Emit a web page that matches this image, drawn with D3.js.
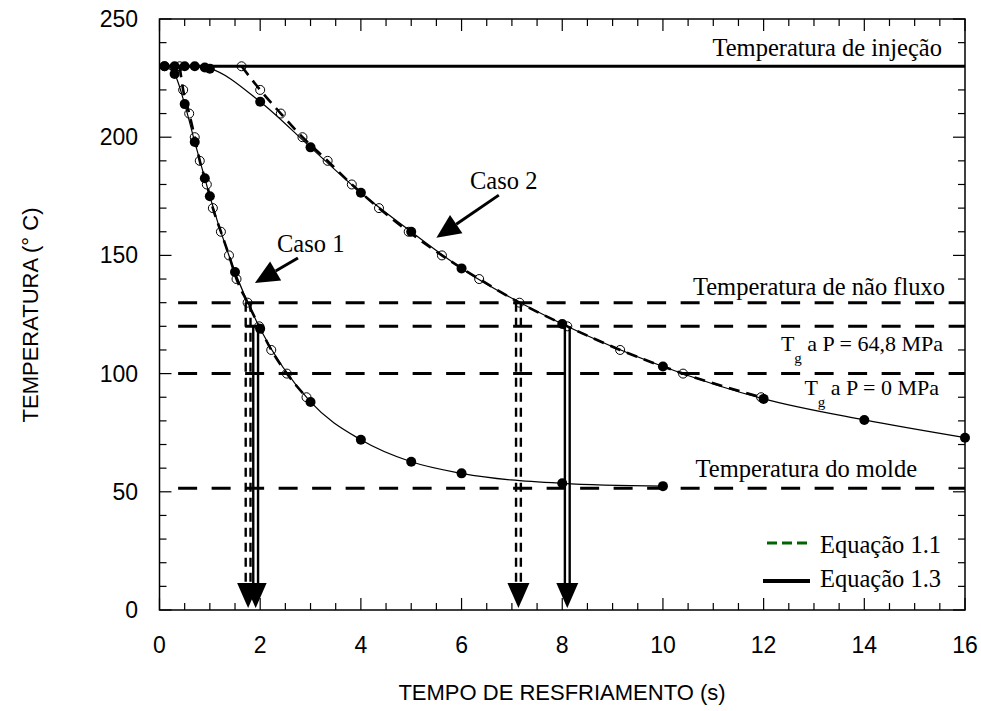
<!DOCTYPE html>
<html lang="pt">
<head>
<meta charset="utf-8">
<script src="https://d3js.org/d3.v7.min.js"></script>
<style>
  body { margin: 0; background: #fff; }
  svg { display: block; }
  .tick-label { font-family: "Liberation Sans", Arial, sans-serif; font-size: 23px; fill: #000; }
  .axis-title { font-family: "Liberation Sans", Arial, sans-serif; font-size: 22px; fill: #000; }
  .note { font-family: "Liberation Serif", "Times New Roman", serif; font-size: 24.5px; fill: #000; }
</style>
</head>
<body>
<script>
// ---- data ----
var xTicks = [0, 2, 4, 6, 8, 10, 12, 14, 16];
var yTicks = [0, 50, 100, 150, 200, 250];

// Caso 1, filled circles (thin solid curve)
var caso1Filled = [[0.1, 230], [0.3, 226.7], [0.5, 214], [0.7, 198], [0.9, 182.6], [1.0, 175],
  [1.5, 143], [2.0, 119], [3.0, 88], [4.0, 72], [5.0, 62.7], [6.0, 57.8], [8.0, 53.6], [10.0, 52.4]];
// Caso 1, open circles (thick dashed curve)
var caso1Open = [[0.4, 230], [0.47, 220], [0.59, 210], [0.7, 200], [0.8, 190], [0.94, 180], [1.06, 170],
  [1.22, 160], [1.38, 150], [1.53, 140], [1.75, 130], [1.98, 120], [2.22, 110], [2.53, 100], [2.92, 90]];
// Caso 2, filled circles
var caso2Filled = [[0.1, 230], [0.3, 230], [0.5, 230], [0.7, 230], [0.9, 229.5], [1.0, 229],
  [2.0, 215], [3.0, 195.7], [4.0, 176.5], [5.0, 160], [6.0, 144.5], [8.0, 121], [10.0, 103],
  [12.0, 89.3], [14.0, 80.4], [16.0, 72.9]];
// Caso 2, open circles
var caso2Open = [[1.63, 230], [2.0, 220], [2.41, 210], [2.84, 200], [3.34, 190], [3.82, 180], [4.36, 170],
  [4.95, 160], [5.61, 150], [6.35, 140], [7.15, 130], [8.1, 120], [9.15, 110], [10.4, 100], [11.95, 90]];

var injectionTemp = 230;
var refLines = [130, 120, 100, 51.5];   // não fluxo, Tg 64,8 MPa, Tg 0 MPa, molde
// vertical drop arrows: [x, from temperature, dashed?]
var dropArrows = [[1.76, 130, true], [1.91, 120, false], [7.13, 130, true], [8.1, 120, false]];
// "Caso" pointer arrows: [label, tailX, tailY, tipX, tipY]
var casoArrows = [["Caso 1", 2.75, 148.9, 1.895, 138.3], ["Caso 2", 6.74, 175.5, 5.5, 157.5]];

var W = 981, H = 711;
var x = d3.scaleLinear().domain([0, 16]).range([159.5, 965]);
var y = d3.scaleLinear().domain([0, 250]).range([610, 19]);

var svg = d3.select("body").append("svg").attr("width", W).attr("height", H);

// frame
svg.append("rect").attr("x", x(0)).attr("y", y(250))
  .attr("width", x(16) - x(0)).attr("height", y(0) - y(250))
  .attr("fill", "none").attr("stroke", "#000").attr("stroke-width", 1.5);

// inward ticks on all four sides
var g = svg.append("g").attr("stroke", "#000").attr("stroke-width", 1.2);
d3.range(0, 16.01, 0.5).forEach(function(v) {
  var len = (v % 2 === 0) ? 12 : 7;
  g.append("line").attr("x1", x(v)).attr("x2", x(v)).attr("y1", y(0)).attr("y2", y(0) - len);
  g.append("line").attr("x1", x(v)).attr("x2", x(v)).attr("y1", y(250)).attr("y2", y(250) + len);
});
d3.range(0, 250.1, 10).forEach(function(v) {
  var len = (v % 50 === 0) ? 12 : 7;
  g.append("line").attr("y1", y(v)).attr("y2", y(v)).attr("x1", x(0)).attr("x2", x(0) + len);
  g.append("line").attr("y1", y(v)).attr("y2", y(v)).attr("x1", x(16)).attr("x2", x(16) - len);
});

// tick labels
svg.selectAll(".xl").data(xTicks).enter().append("text")
  .attr("class", "tick-label").attr("text-anchor", "middle")
  .attr("x", function(d) { return x(d); }).attr("y", 653).text(function(d) { return d; });
svg.selectAll(".yl").data(yTicks).enter().append("text")
  .attr("class", "tick-label").attr("text-anchor", "end")
  .attr("x", 138).attr("y", function(d) { return y(d) + 8; }).text(function(d) { return d; });

// axis titles
svg.append("text").attr("class", "axis-title").attr("text-anchor", "middle")
  .attr("x", 562).attr("y", 700).text("TEMPO DE RESFRIAMENTO (s)");
svg.append("text").attr("class", "axis-title").attr("text-anchor", "middle")
  .attr("transform", "translate(38,315) rotate(-90)").text("TEMPERATURA (° C)");

// injection temperature line
svg.append("line").attr("x1", x(0)).attr("x2", x(16))
  .attr("y1", y(injectionTemp)).attr("y2", y(injectionTemp))
  .attr("stroke", "#000").attr("stroke-width", 3);

// horizontal dashed reference lines
svg.selectAll(".ref").data(refLines).enter().append("line")
  .attr("x1", x(0.37)).attr("x2", x(16))
  .attr("y1", function(d) { return y(d); }).attr("y2", function(d) { return y(d); })
  .attr("stroke", "#000").attr("stroke-width", 3).attr("stroke-dasharray", "19,14.5");

// vertical double-line drop arrows
dropArrows.forEach(function(a) {
  var cx = x(a[0]), top = y(a[1]), tip = y(0) - 2;
  [-2.4, 2.4].forEach(function(off) {
    svg.append("line").attr("x1", cx + off).attr("x2", cx + off)
      .attr("y1", top).attr("y2", tip - 18)
      .attr("stroke", "#000").attr("stroke-width", 2.4)
      .attr("stroke-dasharray", a[2] ? "9,6" : null);
  });
  svg.append("path")
    .attr("d", "M" + (cx - 11) + "," + (tip - 25) + "L" + (cx + 11) + "," + (tip - 25) + "L" + cx + "," + tip + "Z")
    .attr("fill", "#000");
});

// curves
var line = d3.line().x(function(d) { return x(d[0]); }).y(function(d) { return y(d[1]); })
  .curve(d3.curveMonotoneX);

[caso1Open, caso2Open].forEach(function(s) {
  svg.append("path").attr("d", line(s)).attr("fill", "none")
    .attr("stroke", "#000").attr("stroke-width", 2.6).attr("stroke-dasharray", "11,7");
});
[caso1Filled, caso2Filled].forEach(function(s) {
  svg.append("path").attr("d", line(s)).attr("fill", "none")
    .attr("stroke", "#000").attr("stroke-width", 1.2);
});

// markers
[caso1Open, caso2Open].forEach(function(s) {
  svg.append("g").selectAll("circle").data(s).enter().append("circle")
    .attr("cx", function(d) { return x(d[0]); }).attr("cy", function(d) { return y(d[1]); })
    .attr("r", 4.5).attr("fill", "none").attr("stroke", "#000").attr("stroke-width", 1);
});
[caso1Filled, caso2Filled].forEach(function(s) {
  svg.append("g").selectAll("circle").data(s).enter().append("circle")
    .attr("cx", function(d) { return x(d[0]); }).attr("cy", function(d) { return y(d[1]); })
    .attr("r", 5).attr("fill", "#000");
});

// "Caso" pointer arrows
casoArrows.forEach(function(a, i) {
  var x1 = x(a[1]), y1 = y(a[2]), x2 = x(a[3]), y2 = y(a[4]);
  var ang = Math.atan2(y2 - y1, x2 - x1), hl = 24, hw = 11;
  var bx = x2 - hl * Math.cos(ang), by = y2 - hl * Math.sin(ang);
  svg.append("line").attr("x1", x1).attr("y1", y1).attr("x2", bx).attr("y2", by)
    .attr("stroke", "#000").attr("stroke-width", 3);
  svg.append("path").attr("d", "M" + x2 + "," + y2 +
      "L" + (bx + hw * Math.sin(ang)) + "," + (by - hw * Math.cos(ang)) +
      "L" + (bx - hw * Math.sin(ang)) + "," + (by + hw * Math.cos(ang)) + "Z")
    .attr("fill", "#000");
  svg.append("text").attr("class", "note")
    .attr("x", i === 0 ? 277 : 470).attr("y", i === 0 ? 252 : 189).text(a[0]);
});

// annotations
function note(txt, xr, yb) {
  svg.append("text").attr("class", "note").attr("text-anchor", "end")
    .attr("x", xr).attr("y", yb).text(txt);
}
note("Temperatura de injeção", 942, 56);
note("Temperatura de não fluxo", 945, 295);
note("Temperatura do molde", 917, 477);

function tgNote(rest, xr, yb) {
  var t = svg.append("text").attr("class", "note").attr("text-anchor", "end")
    .attr("x", xr).attr("y", yb).style("font-size", "22px");
  t.append("tspan").text("T");
  t.append("tspan").attr("dy", 12).style("font-size", "15px").text("g");
  t.append("tspan").attr("dy", -12).text(" a P = " + rest);
}
tgNote("64,8 MPa", 943, 351);
tgNote("0 MPa", 939, 395);

// legend
svg.append("line").attr("x1", 767).attr("x2", 810).attr("y1", 543).attr("y2", 543)
  .attr("stroke", "#006400").attr("stroke-width", 3).attr("stroke-dasharray", "10,5");
svg.append("line").attr("x1", 763).attr("x2", 810).attr("y1", 581).attr("y2", 581)
  .attr("stroke", "#000").attr("stroke-width", 4);
svg.append("text").attr("class", "note").attr("x", 820).attr("y", 553).text("Equação 1.1");
svg.append("text").attr("class", "note").attr("x", 820).attr("y", 587).text("Equação 1.3");
</script>
</body>
</html>
